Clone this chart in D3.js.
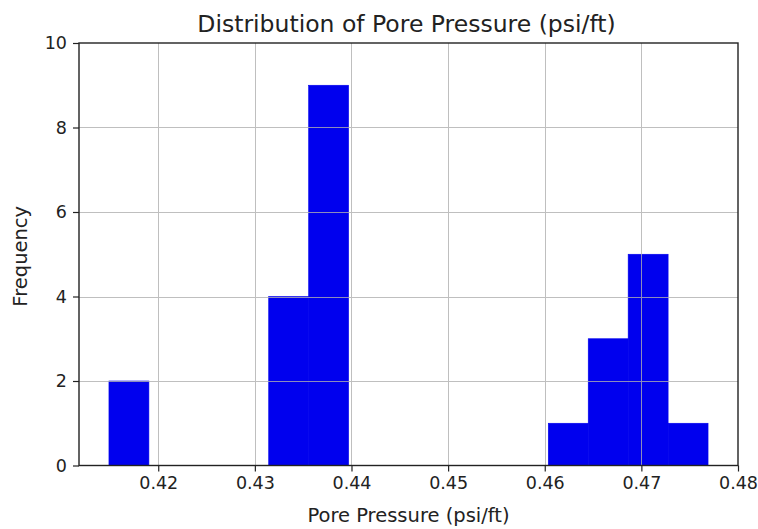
<!DOCTYPE html>
<html>
<head>
<meta charset="utf-8">
<script src="https://cdn.jsdelivr.net/npm/d3@7"></script>
<style>
  html, body { margin: 0; padding: 0; background: #fff; }
  text { font-family: "DejaVu Sans", sans-serif; fill: #222; }
</style>
</head>
<body>
<svg id="chart" width="758" height="529"></svg>
<script>
// Histogram of pore pressure gradients, 15 equal-width bins
const binStart = 0.4149;
const binEnd = 0.4769;
const binCounts = [2, 0, 0, 0, 4, 9, 0, 0, 0, 0, 0, 1, 3, 5, 1];
const xTickValues = [0.42, 0.43, 0.44, 0.45, 0.46, 0.47, 0.48];
const yTickValues = [0, 2, 4, 6, 8, 10];
const titleText = "Distribution of Pore Pressure (psi/ft)";
const xLabelText = "Pore Pressure (psi/ft)";
const yLabelText = "Frequency";

const svg = d3.select("#chart");
const plotLeft = 79, plotRight = 738, plotTop = 43, plotBottom = 465.5;

const nBins = binCounts.length;
const binWidth = (binEnd - binStart) / nBins;
const bins = binCounts.map((c, i) => ({
  x0: binStart + i * binWidth,
  x1: binStart + (i + 1) * binWidth,
  count: c
}));

const span = binEnd - binStart;
const x = d3.scaleLinear()
  .domain([binStart - 0.05 * span, binEnd + 0.05 * span])
  .range([plotLeft, plotRight]);
const y = d3.scaleLinear().domain([0, 10]).range([plotBottom, plotTop]);

// bars
svg.append("g").selectAll("rect")
  .data(bins.filter(b => b.count > 0))
  .join("rect")
  .attr("x", d => x(d.x0))
  .attr("width", d => x(d.x1) - x(d.x0))
  .attr("y", d => y(d.count))
  .attr("height", d => y(0) - y(d.count))
  .attr("fill", "#0000ee")
  .attr("stroke", "#0000ee")
  .attr("stroke-width", 0.6);

// grid, drawn over the bars
const grid = svg.append("g").attr("stroke", "#b0b0b0").attr("stroke-width", 1).attr("opacity", 0.8);
grid.selectAll("line.gx").data(xTickValues.filter(v => x(v) < plotRight - 2))
  .join("line").attr("class", "gx")
  .attr("x1", d => Math.round(x(d)) + 0.5).attr("x2", d => Math.round(x(d)) + 0.5)
  .attr("y1", plotTop).attr("y2", plotBottom);
grid.selectAll("line.gy").data(yTickValues.filter(v => v > 0 && v < 10))
  .join("line").attr("class", "gy")
  .attr("x1", plotLeft).attr("x2", plotRight)
  .attr("y1", d => Math.round(y(d)) + 0.5).attr("y2", d => Math.round(y(d)) + 0.5);

// axes
const xAxis = d3.axisBottom(x).tickValues(xTickValues)
  .tickFormat(d3.format(".2f")).tickSize(6).tickPadding(5);
const yAxis = d3.axisLeft(y).tickValues(yTickValues)
  .tickFormat(d3.format("d")).tickSize(6).tickPadding(6);

const gx = svg.append("g").attr("transform", `translate(0,${plotBottom})`).call(xAxis);
const gy = svg.append("g").attr("transform", `translate(${plotLeft},0)`).call(yAxis);
[gx, gy].forEach(g => {
  g.select(".domain").remove();
  g.selectAll(".tick line").attr("stroke", "#222").attr("stroke-width", 1.2);
  g.selectAll(".tick text").style("font-size", "17.5px").attr("fill", "#222");
});

// frame
svg.append("rect")
  .attr("x", plotLeft).attr("y", plotTop)
  .attr("width", plotRight - plotLeft).attr("height", plotBottom - plotTop)
  .attr("fill", "none").attr("stroke", "#222").attr("stroke-width", 1.4);

// titles
svg.append("text")
  .attr("x", (plotLeft + plotRight) / 2 - 2).attr("y", 32)
  .attr("text-anchor", "middle")
  .style("font-size", "23.5px")
  .text(titleText);

svg.append("text")
  .attr("x", (plotLeft + plotRight) / 2).attr("y", 522)
  .attr("text-anchor", "middle")
  .style("font-size", "19.5px")
  .text(xLabelText);

svg.append("text")
  .attr("transform", `translate(27,${(plotTop + plotBottom) / 2 + 2}) rotate(-90)`)
  .attr("text-anchor", "middle")
  .style("font-size", "19.5px")
  .text(yLabelText);
</script>
</body>
</html>
